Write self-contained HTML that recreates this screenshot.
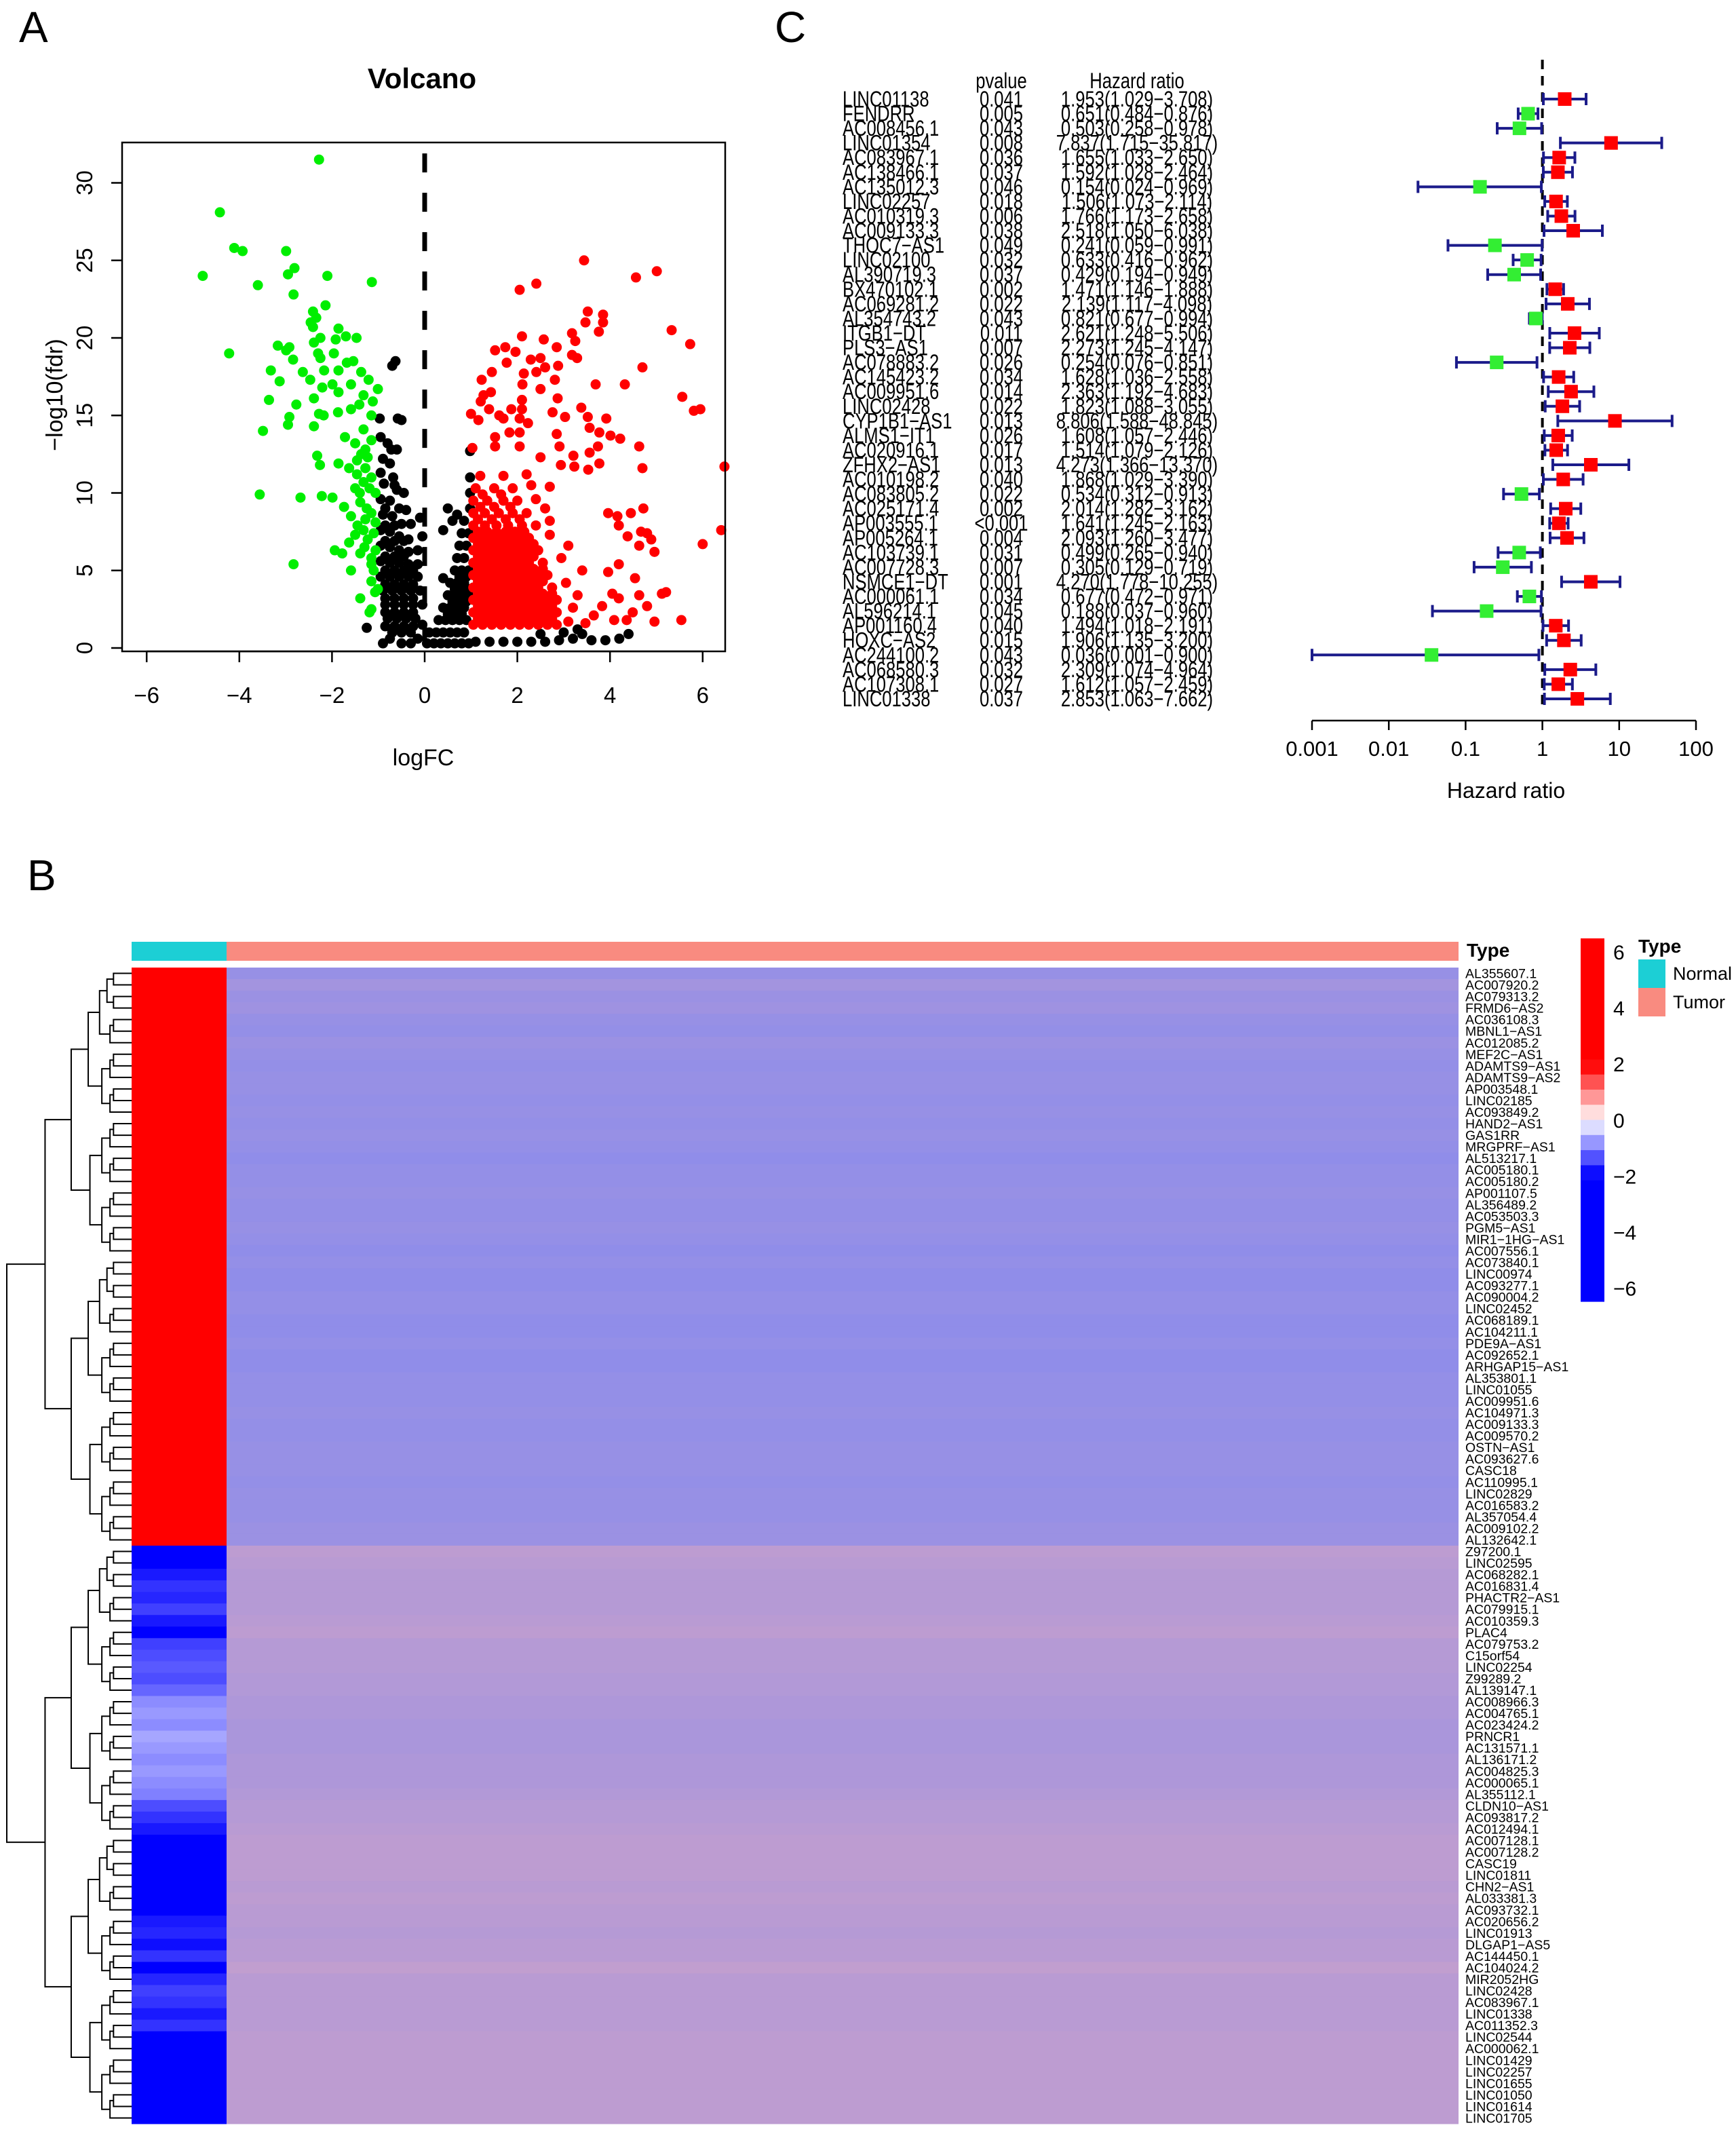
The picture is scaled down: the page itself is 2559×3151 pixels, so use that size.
<!DOCTYPE html>
<html><head><meta charset="utf-8"><style>
html,body{margin:0;padding:0;background:#fff;}
svg{display:block;font-family:"Liberation Sans",Arial,sans-serif;}
</style></head><body>
<svg id="fig" width="2559" height="3151" viewBox="0 0 2559 3151" xmlns="http://www.w3.org/2000/svg">
<rect x="0" y="0" width="2559" height="3151" fill="#fff"/>
<text x="28" y="62" font-size="64">A</text>
<text x="1142" y="62" font-size="64">C</text>
<text x="40" y="1312" font-size="64">B</text>
<g id="volcano"></g>
<g id="forest"></g>
<g id="heat"></g>
</svg>
<script>
// ---------- Volcano data ----------
const greenPoints=[[-2.28,31.5],[-4.42,28.1],[-4.11,25.8],[-3.93,25.6],[-2.99,25.6],[-4.79,24.0],[-3.6,23.4],[-2.95,24.1],[-2.81,24.5],[-2.1,24.0],[-1.14,23.6],[-2.83,22.8],[-2.14,22.1],[-2.41,21.7],[-2.34,21.3],[-2.46,21.0],[-2.41,20.7],[-1.86,20.6],[-1.7,20.1],[-1.47,20.0],[-1.92,19.9],[-2.25,20.0],[-2.39,19.7],[-3.17,19.5],[-2.92,19.4],[-2.99,19.2],[-2.84,18.6],[-4.22,19.0],[-1.96,19.0],[-2.3,19.0],[-2.25,18.7],[-1.68,18.4],[-1.54,18.5],[-3.32,17.9],[-3.13,17.2],[-2.63,17.8],[-2.47,17.3],[-2.17,17.9],[-1.86,17.9],[-1.37,17.8],[-1.21,17.3],[-1.01,16.7],[-2.21,16.8],[-1.99,17.0],[-1.86,16.5],[-1.59,17.0],[-1.32,16.3],[-1.12,15.9],[-3.36,16.0],[-2.77,15.7],[-2.92,14.9],[-2.95,14.4],[-2.39,16.1],[-2.28,15.1],[-2.18,15.0],[-1.87,15.2],[-1.59,15.4],[-1.41,15.7],[-1.15,15.0],[-2.39,14.3],[-3.49,14.0],[-1.72,13.6],[-1.5,13.2],[-1.32,14.1],[-1.15,13.4],[-2.32,12.4],[-2.26,11.8],[-1.86,11.9],[-1.63,11.6],[-1.46,12.1],[-1.28,11.6],[-1.15,11.0],[-1.5,10.3],[-1.06,10.0],[-3.56,9.9],[-2.68,9.7],[-2.22,9.8],[-1.99,9.7],[-1.74,9.1],[-1.39,9.4],[-1.15,8.7],[-1.06,8.1],[-1.32,7.6],[-1.5,7.3],[-1.63,6.8],[-1.23,7.0],[-1.06,6.3],[-1.94,6.3],[-1.78,6.1],[-1.39,6.1],[-1.15,5.4],[-1.59,5.0],[-2.83,5.4],[-1.15,4.3],[-1.01,3.8],[-1.39,3.2],[-1.15,2.5],[-1.19,2.3],[-1.28,12.8],[-1.37,12.5],[-1.23,12.3],[-1.46,11.2],[-1.32,10.7],[-1.19,10.3],[-1.59,8.5],[-1.28,8.3],[-1.1,7.4],[-1.15,5.8],[-1.1,5.0],[-1.07,3.6],[-1.25,9.0],[-1.4,10.0],[-1.3,6.5],[-1.45,7.9]];
const redPoints=[[3.44,25.0],[4.56,23.9],[5.01,24.3],[2.05,23.1],[2.41,23.5],[3.52,21.7],[3.85,21.5],[3.47,21.0],[3.85,21.0],[3.76,20.4],[5.33,20.5],[5.73,19.6],[2.1,20.1],[2.57,19.9],[3.18,20.3],[3.25,19.8],[2.85,19.4],[1.52,19.2],[1.74,19.4],[1.96,19.1],[1.77,18.4],[2.29,18.6],[2.5,18.7],[2.6,18.1],[2.88,18.2],[3.18,18.9],[3.29,18.7],[4.7,18.1],[1.23,17.3],[1.45,17.8],[2.14,17.7],[2.41,17.8],[2.81,17.3],[2.5,16.7],[2.11,17.0],[3.69,17.0],[4.32,17.0],[5.56,16.2],[5.81,15.3],[5.95,15.4],[1.27,16.3],[1.43,16.5],[1.21,15.9],[1.39,15.4],[1.0,15.1],[1.16,14.7],[1.61,15.0],[1.7,14.8],[1.87,15.4],[2.1,16.0],[2.1,15.4],[2.23,14.5],[2.76,15.2],[2.87,16.1],[3.03,14.9],[3.38,15.5],[3.52,14.9],[3.92,14.8],[3.56,14.2],[3.77,13.9],[4.01,13.7],[4.22,13.5],[4.63,13.0],[4.7,11.6],[3.74,13.0],[3.56,12.6],[3.21,12.4],[2.85,13.8],[2.91,13.0],[2.05,14.8],[2.05,13.9],[1.83,13.9],[1.52,13.6],[1.03,12.9],[1.52,13.0],[2.05,13.0],[2.5,12.3],[2.94,11.8],[3.23,11.7],[3.77,11.9],[3.53,11.5],[6.47,11.7],[6.4,7.6],[6.0,6.7],[4.45,8.7],[4.72,9.0],[4.16,8.5],[3.96,8.7],[4.19,7.9],[4.38,7.2],[4.67,7.5],[4.8,7.4],[4.89,7.0],[4.63,6.6],[4.96,6.2],[4.19,5.4],[3.96,4.9],[4.54,4.5],[4.05,3.5],[4.19,3.2],[4.63,3.4],[5.12,3.5],[5.21,3.6],[4.8,2.7],[4.49,2.3],[4.36,1.8],[4.96,1.7],[5.54,1.8],[4.09,1.8],[3.65,2.1],[3.47,1.6],[3.83,2.7],
[1.05,1.5],[1.25,1.5],[1.45,1.5],[1.65,1.5],[1.85,1.5],[2.05,1.5],[2.25,1.5],[2.45,1.5],[2.65,1.5],[2.85,1.5],[3.1,1.7],
[1.05,2.3],[1.25,2.3],[1.45,2.3],[1.65,2.3],[1.85,2.3],[2.05,2.3],[2.25,2.3],[2.45,2.3],[2.65,2.3],[2.85,2.3],[3.2,2.6],
[1.05,3.1],[1.25,3.1],[1.45,3.1],[1.65,3.1],[1.85,3.1],[2.05,3.1],[2.25,3.1],[2.45,3.1],[2.65,3.1],[2.85,3.1],[3.3,3.4],
[1.05,3.9],[1.25,3.9],[1.45,3.9],[1.65,3.9],[1.85,3.9],[2.05,3.9],[2.25,3.9],[2.45,3.9],[2.75,3.9],[3.05,4.2],
[1.05,4.7],[1.25,4.7],[1.45,4.7],[1.65,4.7],[1.85,4.7],[2.05,4.7],[2.25,4.7],[2.45,4.7],[2.65,4.7],[3.4,5.0],
[1.05,5.5],[1.25,5.5],[1.45,5.5],[1.65,5.5],[1.85,5.5],[2.05,5.5],[2.25,5.5],[2.55,5.5],[2.95,5.8],
[1.05,6.3],[1.25,6.3],[1.45,6.3],[1.65,6.3],[1.85,6.3],[2.05,6.3],[2.25,6.3],[2.45,6.3],[3.1,6.6],
[1.05,7.1],[1.25,7.1],[1.45,7.1],[1.65,7.1],[1.85,7.1],[2.05,7.1],[2.25,7.1],[2.7,7.3],
[1.05,7.9],[1.3,7.9],[1.55,7.9],[1.8,7.9],[2.1,7.9],[2.4,7.9],[2.7,8.2],
[1.05,8.7],[1.3,8.7],[1.6,8.7],[1.9,8.7],[2.2,8.7],[2.6,9.0],
[1.05,9.5],[1.35,9.5],[1.7,9.5],[2.0,9.5],[2.4,9.6],
[1.1,10.3],[1.5,10.3],[1.9,10.3],[2.3,10.5],[2.7,10.4],[1.2,11.1],[1.7,11.1],[2.2,11.2],
[1.15,1.9],[1.35,1.9],[1.55,1.9],[1.75,1.9],[1.95,1.9],[2.15,1.9],[2.35,1.9],[2.55,1.9],[2.75,1.9],
[1.15,2.7],[1.35,2.7],[1.55,2.7],[1.75,2.7],[1.95,2.7],[2.15,2.7],[2.35,2.7],[2.55,2.7],[2.75,2.7],
[1.15,3.5],[1.35,3.5],[1.55,3.5],[1.75,3.5],[1.95,3.5],[2.15,3.5],[2.35,3.5],[2.55,3.5],[2.75,3.5],
[1.15,4.3],[1.35,4.3],[1.55,4.3],[1.75,4.3],[1.95,4.3],[2.15,4.3],[2.35,4.3],[2.55,4.3],
[1.15,5.1],[1.35,5.1],[1.55,5.1],[1.75,5.1],[1.95,5.1],[2.15,5.1],[2.35,5.1],[2.55,5.1],
[1.15,5.9],[1.35,5.9],[1.55,5.9],[1.75,5.9],[1.95,5.9],[2.15,5.9],[2.35,5.9],
[1.15,6.7],[1.35,6.7],[1.55,6.7],[1.75,6.7],[1.95,6.7],[2.15,6.7],[2.35,6.7],
[1.15,7.5],[1.35,7.5],[1.55,7.5],[1.75,7.5],[1.95,7.5],[2.15,7.5],
[1.15,8.3],[1.45,8.3],[1.75,8.3],[2.05,8.3],[1.2,9.1],[1.5,9.1],[1.85,9.1],[1.25,9.9],[1.65,9.9]];
const blackPoints=[[-0.7,18.2],[-0.63,18.5],[-0.97,14.8],[-0.5,14.7],[-0.58,14.8],[-0.95,13.6],[-0.8,13.2],[-0.72,12.8],[-0.6,12.8],[-0.9,12.2],[-0.75,11.9],[-0.95,11.3],[-0.68,11.0],[-0.88,10.6],[-0.6,10.2],[-0.45,10.0],[-0.95,9.6],[-0.75,9.5],[-0.55,9.0],[-0.4,8.9],[-0.9,8.6],[-0.7,8.5],[-0.5,8.0],[-0.3,8.0],[-0.95,7.6],[-0.75,7.5],[-0.55,7.2],[-0.35,7.0],[-0.1,8.4],[-0.05,7.2],[-0.95,6.6],[-0.75,6.5],[-0.55,6.3],[-0.35,6.2],[-0.15,6.3],[-0.95,5.6],[-0.75,5.5],[-0.55,5.5],[-0.35,5.4],[-0.15,5.4],[-0.95,4.6],[-0.75,4.6],[-0.55,4.6],[-0.35,4.6],[-0.15,4.6],[-0.9,3.7],[-0.7,3.7],[-0.5,3.7],[-0.3,3.7],[-0.1,3.7],[-0.85,2.8],[-0.65,2.8],[-0.45,2.8],[-0.25,2.8],[-0.05,2.8],[-0.8,1.9],[-0.6,1.9],[-0.4,1.9],[-0.2,1.9],[-0.05,1.5],[-0.7,1.0],[-0.5,1.0],[-0.3,1.0],[-0.15,0.6],[-1.25,1.3],[-0.75,0.6],[-0.5,0.3],[-0.3,0.3],[-0.9,0.3],
[-0.85,1.4],[-0.65,1.4],[-0.45,1.4],[-0.25,1.4],[-0.85,2.3],[-0.65,2.3],[-0.45,2.3],[-0.25,2.3],[-0.85,3.2],[-0.65,3.2],[-0.45,3.2],[-0.25,3.2],[-0.85,4.1],[-0.65,4.1],[-0.45,4.1],[-0.25,4.1],[-0.85,5.0],[-0.65,5.0],[-0.45,5.0],[-0.25,5.0],[-0.85,5.9],[-0.65,5.9],[-0.45,5.9],[-0.85,6.9],[-0.65,6.9],[-0.45,6.9],[-0.85,7.9],[-0.65,7.9],[-0.85,9.0],[-0.65,10.5],
[0.05,0.3],[0.2,0.3],[0.35,0.3],[0.5,0.3],[0.65,0.3],[0.8,0.3],[0.95,0.3],[0.1,1.0],[0.25,1.0],[0.4,1.0],[0.55,1.0],[0.7,1.0],[0.85,1.0],[0.3,1.8],[0.45,1.8],[0.6,1.8],[0.75,1.8],[0.9,1.8],[0.4,2.6],[0.55,2.6],[0.7,2.6],[0.85,2.6],[0.5,3.4],[0.65,3.4],[0.8,3.4],[0.95,3.4],[0.55,4.2],[0.7,4.2],[0.85,4.2],[0.65,5.0],[0.8,5.0],[0.95,5.0],[0.7,5.8],[0.85,5.8],[0.75,6.6],[0.9,6.6],[0.8,7.4],[0.95,7.4],[0.85,8.2],[0.7,8.6],[0.5,9.0],[0.6,8.2],[0.4,7.6],[0.98,9.0],[0.98,10],[0.98,12.7],[0.98,11.0],[0.4,4.5],
[0.5,2.2],[0.65,2.2],[0.8,2.2],[0.6,3.0],[0.75,3.0],[0.9,3.0],[0.65,3.8],[0.8,3.8],[0.95,3.8],[0.75,4.6],[0.9,4.6],
[1.1,0.4],[1.4,0.4],[1.7,0.4],[2.0,0.4],[2.3,0.4],[2.6,0.4],[2.9,0.5],[3.2,0.6],[3.4,0.9],[3.6,0.5],[3.9,0.5],[4.2,0.6],[4.4,0.9],[2.5,0.9],[3.0,1.0],[3.3,1.2]];
const volcanoXTicks=[-6,-4,-2,0,2,4,6];
const volcanoYTicks=[0,5,10,15,20,25,30];

// ---------- Forest data ----------
const forestGenes=["LINC01138","FENDRR","AC008456.1","LINC01354","AC083967.1","AC138466.1","AC135012.3","LINC02257","AC010319.3","AC009133.3","THOC7−AS1","LINC02100","AL390719.3","BX470102.1","AC069281.2","AL354743.2","ITGB1−DT","PLS3−AS1","AC078883.2","AC145423.2","AC009951.6","LINC02428","CYP1B1−AS1","ALMS1−IT1","AC020916.1","ZFHX2−AS1","AC010198.2","AC083805.2","AC025171.4","AP003555.1","AP005264.1","AC103739.1","AC007728.3","NSMCE1−DT","AC000061.1","AL596214.1","AP001160.4","HOXC−AS2","AC244100.2","AC068580.3","AC107308.1","LINC01338"];
const forestP=["0.041","0.005","0.043","0.008","0.036","0.037","0.046","0.018","0.006","0.038","0.049","0.032","0.037","0.002","0.022","0.043","0.011","0.007","0.026","0.034","0.014","0.022","0.013","0.026","0.017","0.013","0.040","0.022","0.002","<0.001","0.004","0.031","0.007","0.001","0.034","0.045","0.040","0.015","0.043","0.032","0.027","0.037"];
const forestHR=[1.953,0.651,0.503,7.837,1.655,1.592,0.154,1.506,1.766,2.518,0.241,0.633,0.429,1.471,2.139,0.821,2.621,2.273,0.254,1.628,2.363,1.823,8.806,1.608,1.514,4.273,1.868,0.534,2.014,1.641,2.093,0.499,0.305,4.270,0.677,0.188,1.494,1.906,0.036,2.309,1.612,2.853];
const forestLow=[1.029,0.484,0.258,1.715,1.033,1.028,0.024,1.073,1.173,1.050,0.059,0.416,0.194,1.146,1.117,0.677,1.248,1.245,0.076,1.036,1.192,1.088,1.588,1.057,1.079,1.366,1.029,0.312,1.282,1.245,1.260,0.265,0.129,1.778,0.472,0.037,1.018,1.135,0.001,1.074,1.057,1.063];
const forestHigh=[3.708,0.876,0.978,35.817,2.650,2.464,0.969,2.114,2.658,6.038,0.991,0.962,0.949,1.888,4.098,0.994,5.506,4.147,0.851,2.558,4.683,3.055,48.845,2.446,2.126,13.370,3.390,0.913,3.162,2.163,3.477,0.940,0.719,10.255,0.971,0.960,2.191,3.200,0.900,4.964,2.459,7.662];
const forestTicks=[0.001,0.01,0.1,1,10,100];
const forestTickLabels=["0.001","0.01","0.1","1","10","100"];

// ---------- Heatmap data ----------
const heatGenes=["AL355607.1","AC007920.2","AC079313.2","FRMD6−AS2","AC036108.3","MBNL1−AS1","AC012085.2","MEF2C−AS1","ADAMTS9−AS1","ADAMTS9−AS2","AP003548.1","LINC02185","AC093849.2","HAND2−AS1","GAS1RR","MRGPRF−AS1","AL513217.1","AC005180.1","AC005180.2","AP001107.5","AL356489.2","AC053503.3","PGM5−AS1","MIR1−1HG−AS1","AC007556.1","AC073840.1","LINC00974","AC093277.1","AC090004.2","LINC02452","AC068189.1","AC104211.1","PDE9A−AS1","AC092652.1","ARHGAP15−AS1","AL353801.1","LINC01055","AC009951.6","AC104971.3","AC009133.3","AC009570.2","OSTN−AS1","AC093627.6","CASC18","AC110995.1","LINC02829","AC016583.2","AL357054.4","AC009102.2","AL132642.1","Z97200.1","LINC02595","AC068282.1","AC016831.4","PHACTR2−AS1","AC079915.1","AC010359.3","PLAC4","AC079753.2","C15orf54","LINC02254","Z99289.2","AL139147.1","AC008966.3","AC004765.1","AC023424.2","PRNCR1","AC131571.1","AL136171.2","AC004825.3","AC000065.1","AL355112.1","CLDN10−AS1","AC093817.2","AC012494.1","AC007128.1","AC007128.2","CASC19","LINC01811","CHN2−AS1","AL033381.3","AC093732.1","AC020656.2","LINC01913","DLGAP1−AS5","AC144450.1","AC104024.2","MIR2052HG","LINC02428","AC083967.1","LINC01338","AC011352.3","LINC02544","AC000062.1","LINC01429","LINC02257","LINC01655","LINC01050","LINC01614","LINC01705"];
const normalVals=[2.2,2.6,2.8,3.5,3.8,3.6,3.9,4.0,3.8,4.1,3.7,4.0,3.9,4.2,3.8,4.0,3.9,4.1,4.2,4.0,3.9,4.1,4.0,3.8,4.6,4.8,5.2,5.0,4.8,4.9,5.0,5.1,4.9,5.3,5.2,5.0,4.8,4.9,5.0,4.7,4.9,4.8,4.6,4.9,4.7,4.6,4.8,4.5,4.6,4.4,
-4.5,-2.8,-1.8,-1.6,-1.7,-1.5,-1.8,-3.2,-1.5,-1.4,-1.3,-1.4,-1.2,-0.9,-0.8,-0.9,-0.7,-0.8,-0.9,-0.8,-0.9,-1.0,-1.4,-1.6,-1.8,-3.0,-3.2,-2.8,-3.0,-2.7,-2.9,-2.6,-1.8,-1.7,-1.9,-1.6,-4.2,-1.7,-1.5,-1.6,-1.8,-1.6,-2.4,-2.2,-2.6,-2.5,-2.7,-2.4,-2.6,-2.8];
const tumorVals=[-0.7,-0.4,-0.6,-0.5,-0.7,-0.8,-0.6,-0.7,-0.8,-0.7,-0.7,-0.8,-0.7,-0.8,-0.7,-0.8,-0.9,-0.8,-0.8,-0.7,-0.8,-0.8,-0.7,-0.8,-0.9,-0.8,-0.9,-0.9,-0.8,-0.8,-0.9,-0.9,-0.8,-0.9,-0.9,-0.8,-0.8,-0.8,-0.7,-0.8,-0.8,-0.7,-0.7,-0.7,-0.8,-0.7,-0.7,-0.7,-0.6,-0.6,
0.3,0.2,0.1,0.1,0.1,0.1,0.2,0.3,0.1,0.1,0.1,0.0,0.0,-0.1,-0.1,-0.2,-0.2,-0.2,-0.1,-0.1,-0.1,0.0,0.1,0.1,0.2,0.3,0.3,0.3,0.3,0.2,0.3,0.2,0.2,0.1,0.2,0.2,0.4,0.2,0.2,0.2,0.2,0.2,0.3,0.3,0.3,0.3,0.3,0.3,0.3,0.3];
const legendTicks=[6,4,2,0,-2,-4,-6];

const NS="http://www.w3.org/2000/svg";
function mk(tag,attrs,parent){const e=document.createElementNS(NS,tag);for(const k in attrs)e.setAttribute(k,attrs[k]);parent.appendChild(e);return e;}

// ===== Volcano =====
(function(){
const g=document.getElementById('volcano');
const xs=v=>626+v*68.3, ys=v=>955-v*22.85;
const L=180,R=1069,T=210,B=960;
const dl=mk('line',{x1:xs(0),x2:xs(0),y1:ys(31.9),y2:ys(0),stroke:'#000','stroke-width':7,'stroke-dasharray':'28,30'},g);


[[blackPoints,'#000','black'],[greenPoints,'#00ee00','green'],[redPoints,'#ff0000','red']].forEach(([arr,col,nm])=>{
  arr.forEach(p=>{
    const c=mk('circle',{cx:xs(p[0]),cy:ys(p[1]),r:7.5,fill:col},g);
    
    
  });
});
const box=mk('rect',{x:L,y:T,width:R-L,height:B-T,fill:'none',stroke:'#000','stroke-width':2.5},g);


volcanoXTicks.forEach(t=>{
  mk('line',{x1:xs(t),x2:xs(t),y1:B,y2:B+16,stroke:'#000','stroke-width':2.5},g);
  const tx=mk('text',{x:xs(t),y:1036,'font-size':33,'text-anchor':'middle'},g);
  tx.textContent=(t<0?'−':'')+Math.abs(t);
  
  
});
mk('line',{x1:xs(-6),x2:xs(6),y1:B,y2:B,stroke:'#000','stroke-width':2.5},g);
volcanoYTicks.forEach(t=>{
  mk('line',{x1:L,x2:L-16,y1:ys(t),y2:ys(t),stroke:'#000','stroke-width':2.5},g);
  const tx=mk('text',{x:0,y:0,'font-size':33,'text-anchor':'middle',transform:`translate(136,${ys(t)}) rotate(-90)`},g);
  tx.textContent=t;
  
  
});
const ttl=mk('text',{x:622,y:130,'font-size':42,'font-weight':'bold','text-anchor':'middle'},g);
ttl.textContent='Volcano';


const xl=mk('text',{x:624,y:1128,'font-size':34,'text-anchor':'middle'},g);
xl.textContent='logFC';


const yl=mk('text',{x:0,y:0,'font-size':34,'text-anchor':'middle',transform:'translate(92,582) rotate(-90)'},g);
yl.textContent='−log10(fdr)';


})();

// ===== Forest =====
(function(){
const g=document.getElementById('forest');
const lx=v=>1934+(Math.log10(v)+3)*113.2;
const ry=i=>146+i*21.56;
const fs=32, SX=0.8;
const tg=mk('g',{transform:`scale(${SX},1)`},g);


const h1=mk('text',{x:1476/SX,y:130,'font-size':fs,'text-anchor':'middle'},tg);
h1.textContent='pvalue';


const h2=mk('text',{x:1676/SX,y:130,'font-size':fs,'text-anchor':'middle'},tg);
h2.textContent='Hazard ratio';


const dl=mk('line',{x1:lx(1),x2:lx(1),y1:88,y2:1048,stroke:'#000','stroke-width':4,'stroke-dasharray':'14,10'},g);


forestGenes.forEach((gn,i)=>{
  const y=ry(i);
  const t1=mk('text',{x:1242/SX,y:y+11,'font-size':fs},tg);
  t1.textContent=gn;
  
  
  const t2=mk('text',{x:1476/SX,y:y+11,'font-size':fs,'text-anchor':'middle'},tg);
  t2.textContent=forestP[i];
  
  
  const t3=mk('text',{x:1676/SX,y:y+11,'font-size':fs,'text-anchor':'middle'},tg);
  t3.textContent=forestHR[i].toFixed(3)+'('+forestLow[i].toFixed(3)+'−'+forestHigh[i].toFixed(3)+')';
  
  
  const x1=lx(forestLow[i]),x2=lx(forestHigh[i]);
  const ci=mk('path',{d:`M${x1},${y}H${x2}M${x1},${y-9}V${y+9}M${x2},${y-9}V${y+9}`,stroke:'#1b1b8a','stroke-width':4,fill:'none'},g);
  
  
  const m=mk('rect',{x:lx(forestHR[i])-10,y:y-10,width:20,height:20,fill:forestHR[i]>1?'#ff0000':'#33ee33'},g);
  
  
});
mk('line',{x1:lx(0.001),x2:lx(100),y1:1062,y2:1062,stroke:'#000','stroke-width':2.5},g);
forestTicks.forEach((t,i)=>{
  mk('line',{x1:lx(t),x2:lx(t),y1:1062,y2:1076,stroke:'#000','stroke-width':2.5},g);
  const tx=mk('text',{x:lx(t),y:1114,'font-size':31,'text-anchor':'middle'},g);
  tx.textContent=forestTickLabels[i];
  
  
});
const xt=mk('text',{x:2220,y:1176,'font-size':32,'text-anchor':'middle'},g);
xt.textContent='Hazard ratio';


})();

// ===== Heatmap =====
(function(){
const g=document.getElementById('heat');
const X0=194,XN=334,X1=2150,Y0=1426,RH=17.04;
function scaleCol(v){
  v=Math.max(-6,Math.min(6,v));
  let t=Math.max(-1,Math.min(1,v/2));
  if(t<0){const a=-t;return `rgb(${Math.round(255*(1-a))},${Math.round(255*(1-a))},255)`;}
  return `rgb(255,${Math.round(255*(1-t))},${Math.round(255*(1-t))})`;
}
function texCol(v){
  const t=(v+1)/2;
  const a=[140,140,235],b=[215,165,195];
  return `rgb(${Math.round(a[0]+(b[0]-a[0])*t)},${Math.round(a[1]+(b[1]-a[1])*t)},${Math.round(a[2]+(b[2]-a[2])*t)})`;
}
const nb=mk('rect',{x:X0,y:1388,width:XN-X0,height:28,fill:'#1ccfd5'},g);


const tb=mk('rect',{x:XN,y:1388,width:X1-XN,height:28,fill:'#f98b80'},g);


const tl=mk('text',{x:2162,y:1410,'font-size':28,'font-weight':'bold'},g);
tl.textContent='Type';


heatGenes.forEach((gn,i)=>{
  const y=Y0+i*RH;
  const c1=mk('rect',{x:X0,y:y,width:XN-X0,height:RH+0.5,fill:scaleCol(normalVals[i])},g);
  
  
  const c2=mk('rect',{x:XN,y:y,width:X1-XN,height:RH+0.5,fill:texCol(tumorVals[i])},g);
  
  
  const t=mk('text',{x:2160,y:y+RH/2+7,'font-size':19.5},g);
  t.textContent=gn;
  
  
});
const dg=mk('g',{stroke:'#000','stroke-width':2,fill:'none'},g);


function tree(a,b){
  const n=b-a;
  if(n===1) return [Y0+(a+0.5)*RH,X0];
  let m=(a===0&&b===100)?50:a+Math.ceil(n/2);
  const l=tree(a,m), r=tree(m,b);
  const x=X0-6-178*Math.pow(n/100,0.55);
  mk('path',{d:`M${l[1]},${l[0]}H${x}V${r[0]}H${r[1]}`},dg);
  return [(l[0]+r[0])/2,x];
}
tree(0,100);
const LT=1383,LB=1918,LX=2330,LW=35;
const ly=v=>1403+(6-v)*41.3;
for(let k=0;k<24;k++){
  const v1=6.5-k*0.5417, v2=v1-0.5417;
  const r=mk('rect',{x:LX,y:LT+(LB-LT)*k/24,width:LW,height:(LB-LT)/24+0.6,fill:scaleCol((v1+v2)/2)},g);
  
  
}
legendTicks.forEach(t=>{
  const tx=mk('text',{x:2378,y:ly(t)+11,'font-size':30},g);
  tx.textContent=(t<0?'−':'')+Math.abs(t);
  
  
});
const lt=mk('text',{x:2415,y:1404,'font-size':28,'font-weight':'bold'},g);
lt.textContent='Type';


const ln=mk('rect',{x:2415,y:1414,width:40,height:42,fill:'#1ccfd5'},g);


const lnt=mk('text',{x:2466,y:1444,'font-size':27},g);
lnt.textContent='Normal';


const lu=mk('rect',{x:2415,y:1456,width:40,height:42,fill:'#f98b80'},g);


const lut=mk('text',{x:2466,y:1486,'font-size':27},g);
lut.textContent='Tumor';


})();
</script>
</body></html>
